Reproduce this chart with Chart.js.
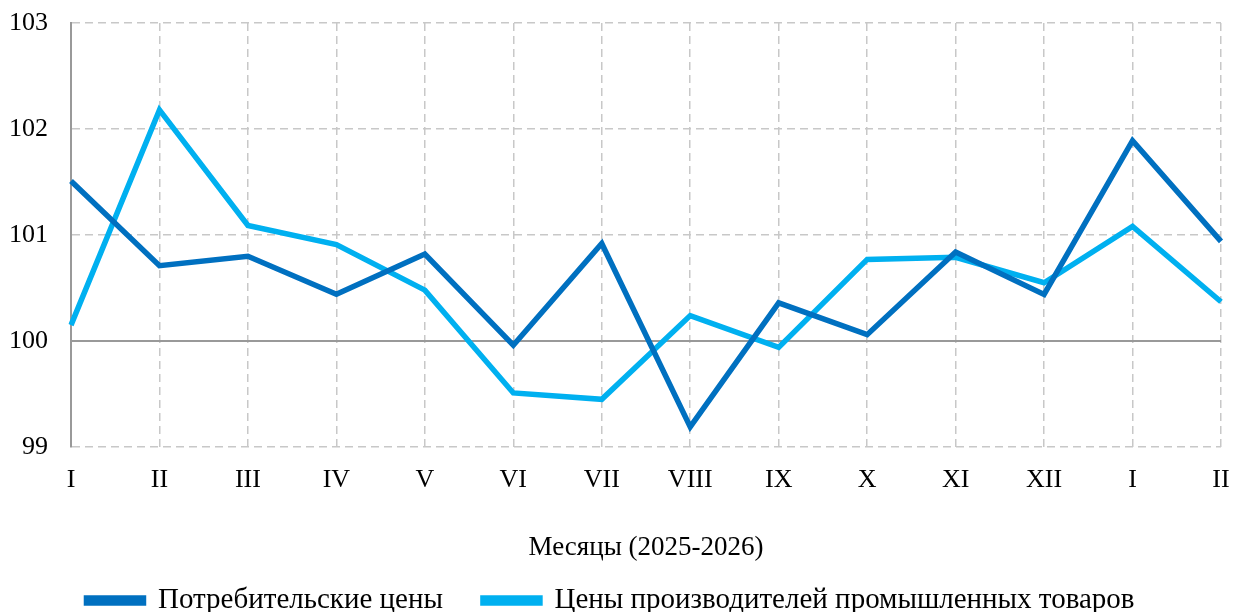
<!DOCTYPE html>
<html>
<head>
<meta charset="utf-8">
<script src="https://cdn.jsdelivr.net/npm/chart.js@4"></script>
<style>
  body { margin: 0; background: #fff; }
</style>
</head>
<body>
<canvas id="chart" width="1242" height="612"></canvas>
<script>
var months = ["I", "II", "III", "IV", "V", "VI", "VII", "VIII", "IX", "X", "XI", "XII", "I", "II"];
var consumerPrices = [101.51, 100.71, 100.80, 100.44, 100.82, 99.96, 100.92, 99.19, 100.36, 100.06, 100.84, 100.44, 101.89, 100.94];
var producerPrices = [100.15, 102.18, 101.09, 100.91, 100.48, 99.51, 99.45, 100.24, 99.94, 100.77, 100.79, 100.55, 101.08, 100.37];
var yTicks = [99, 100, 101, 102, 103];

var font = "'Liberation Serif', 'Times New Roman', serif";

var ctx = document.getElementById("chart");

new Chart(ctx, {
	type: "line",
	data: {
		labels: months,
		datasets: [
			{
				label: "Потребительские цены",
				data: consumerPrices,
				borderColor: "#0070C0",
				backgroundColor: "#0070C0",
				borderWidth: 5.5,
				pointRadius: 0,
				tension: 0,
				fill: false
			},
			{
				label: "Цены производителей промышленных товаров",
				data: producerPrices,
				borderColor: "#00B0F0",
				backgroundColor: "#00B0F0",
				borderWidth: 5.5,
				pointRadius: 0,
				tension: 0,
				fill: false
			}
		]
	},
	options: {
		responsive: false,
		animation: false,
		layout: { padding: { left: 0, right: 21, top: 23, bottom: -13 } },
		plugins: {
			legend: {
				position: "bottom",
				labels: {
					color: "#000",
					font: { family: font, size: 29, lineHeight: 1 },
					boxWidth: 57,
					boxHeight: 5,
					padding: 40
				}
			},
			tooltip: { enabled: false }
		},
		scales: {
			x: {
				offset: false,
				afterFit: function(axis) {
					axis.height = 99;
					axis.paddingLeft = 0;
					axis.paddingRight = 0;
				},
				grid: {
					color: "#c8c8c8",
					lineWidth: 1.5,
					drawTicks: false
				},
				border: { display: false, dash: [8, 5] },
				ticks: {
					color: "#000",
					font: { family: font, size: 26 },
					padding: 18,
					maxRotation: 0,
					autoSkip: false
				},
				title: {
					display: true,
					text: "Месяцы (2025-2026)",
					color: "#000",
					font: { family: font, size: 27, lineHeight: 1 },
					padding: { top: 0, bottom: -15 }
				}
			},
			y: {
				min: 99,
				max: 103,
				afterBuildTicks: function(axis) {
					axis.ticks = yTicks.map(function(v) { return { value: v }; });
				},
				afterFit: function(axis) {
					axis.width = 71;
					axis.paddingTop = 0;
					axis.paddingBottom = 0;
				},
				grid: {
					color: function(c) { return c.tick && c.tick.value === 100 ? "#999999" : "#c8c8c8"; },
					lineWidth: function(c) { return c.tick && c.tick.value === 100 ? 2 : 1.5; },
					drawTicks: false
				},
				border: {
					display: true,
					color: "#999999",
					width: 2,
					dash: function(c) { return c.tick && c.tick.value === 100 ? [] : [8, 5]; }
				},
				ticks: {
					color: "#000",
					font: { family: font, size: 26 },
					padding: 23
				}
			}
		}
	}
});
</script>
</body>
</html>
